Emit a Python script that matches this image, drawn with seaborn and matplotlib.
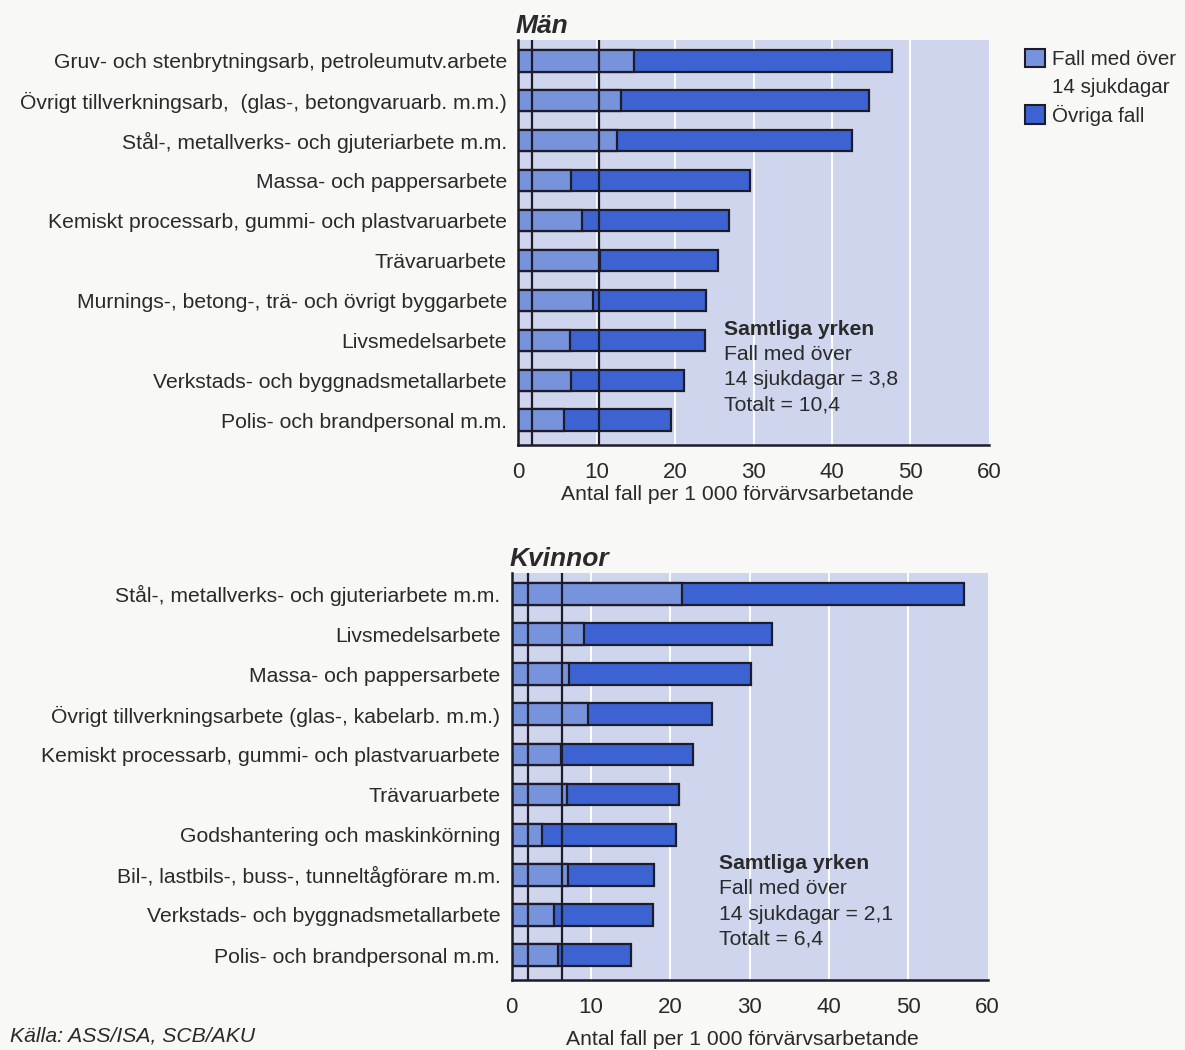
import pandas as pd
import seaborn as sns
import matplotlib.pyplot as plt
from matplotlib.patches import Patch

# Män
men_categories = [
    'Gruv- och stenbrytningsarb, petroleumutv.arbete',
    'Övrigt tillverkningsarb,  (glas-, betongvaruarb. m.m.)',
    'Stål-, metallverks- och gjuteriarbete m.m.',
    'Massa- och pappersarbete',
    'Kemiskt processarb, gummi- och plastvaruarbete',
    'Trävaruarbete',
    'Murnings-, betong-, trä- och övrigt byggarbete',
    'Livsmedelsarbete',
    'Verkstads- och byggnadsmetallarbete',
    'Polis- och brandpersonal m.m.',
]
men_over14 = [14.8, 13.1, 12.6, 6.8, 8.2, 10.4, 9.6, 6.6, 6.7, 5.9]
men_total = [47.7, 44.7, 42.5, 29.5, 26.9, 25.5, 24.0, 23.8, 21.1, 19.5]
men_lines = [1.8, 10.3]

# Kvinnor
women_categories = [
    'Stål-, metallverks- och gjuteriarbete m.m.',
    'Livsmedelsarbete',
    'Massa- och pappersarbete',
    'Övrigt tillverkningsarbete (glas-, kabelarb. m.m.)',
    'Kemiskt processarb, gummi- och plastvaruarbete',
    'Trävaruarbete',
    'Godshantering och maskinkörning',
    'Bil-, lastbils-, buss-, tunneltågförare m.m.',
    'Verkstads- och byggnadsmetallarbete',
    'Polis- och brandpersonal m.m.',
]
women_over14 = [21.5, 9.2, 7.3, 9.7, 6.2, 7.0, 3.9, 7.1, 5.4, 5.9]
women_total = [57.1, 32.8, 30.2, 25.3, 22.9, 21.1, 20.7, 18.0, 17.8, 15.1]
women_lines = [2.1, 6.4]

xticks = [0, 10, 20, 30, 40, 50, 60]

sns.set_style('white')
plt.rcParams['font.family'] = ['Liberation Sans', 'DejaVu Sans']

LIGHT = '#7793dc'
DARK = '#3d62d2'
EDGE = '#1c1c2a'
PANEL = '#ced5ec'
INK = '#2a2a2a'

fig = plt.figure(figsize=(11.85, 10.5), dpi=100)
fig.patch.set_facecolor('#f8f8f6')


def draw_panel(ax, cats, over, total, lines, title, note):
    df = pd.DataFrame({'cat': cats, 'over': over, 'total': total})
    sns.barplot(data=df, y='cat', x='total', orient='h', color=DARK,
                edgecolor=EDGE, linewidth=1.6, width=0.54, saturation=1, ax=ax)
    sns.barplot(data=df, y='cat', x='over', orient='h', color=LIGHT,
                edgecolor=EDGE, linewidth=1.6, width=0.54, saturation=1, ax=ax)
    ax.set_facecolor(PANEL)
    ax.set_xlim(0, 60)
    ax.set_ylim(9.62, -0.52)
    ax.set_xticks(xticks)
    ax.set_xticklabels([str(t) for t in xticks], fontsize=16, color=INK)
    for t in xticks[1:-1]:
        ax.axvline(t, color='white', lw=1.4, zorder=0)
    for v in lines:
        ax.axvline(v, color=EDGE, lw=1.6, zorder=5)
    ax.tick_params(axis='y', length=0, pad=8, labelsize=15.2, labelcolor=INK)
    ax.tick_params(axis='x', length=0, pad=12)
    ax.set_ylabel('')
    ax.set_xlabel('Antal fall per 1 000 förvärvsarbetande', fontsize=15.2,
                  color=INK)
    for s in ['top', 'right']:
        ax.spines[s].set_visible(False)
    for s in ['left', 'bottom']:
        ax.spines[s].set_color(EDGE)
        ax.spines[s].set_linewidth(1.8)
    ax.text(-0.005, 1.006, title, transform=ax.transAxes, fontsize=19,
            fontweight='bold', fontstyle='italic', color=INK, va='bottom')
    ax.text(26.2, 6.72, 'Samtliga yrken', fontsize=15.2, fontweight='bold',
            color=INK, va='center')
    for i, line in enumerate(note):
        ax.text(26.2, 7.35 + 0.63 * i, line, fontsize=15.2, color=INK, va='center')


ax1 = fig.add_axes([518 / 1185, 1 - 445 / 1050, 471 / 1185, 405 / 1050])
draw_panel(ax1, men_categories, men_over14, men_total, men_lines, 'Män',
           ['Fall med över', '14 sjukdagar = 3,8', 'Totalt = 10,4'])
ax1.xaxis.set_label_coords(0.465, -0.10)

ax2 = fig.add_axes([511.5 / 1185, 1 - 980 / 1050, 476 / 1185, 407 / 1050])
draw_panel(ax2, women_categories, women_over14, women_total, women_lines, 'Kvinnor',
           ['Fall med över', '14 sjukdagar = 2,1', 'Totalt = 6,4'])
ax2.xaxis.set_label_coords(0.485, -0.122)

# the second legend row carries the wrapped part of the first label
handles = [Patch(facecolor=LIGHT, edgecolor=EDGE, linewidth=1.5),
           Patch(facecolor='none', edgecolor='none'),
           Patch(facecolor=DARK, edgecolor=EDGE, linewidth=1.5)]
fig.legend(handles, ['Fall med över', '14 sjukdagar', 'Övriga fall'],
           loc='upper left', bbox_to_anchor=(1006 / 1185, 1 - 30 / 1050),
           frameon=False, fontsize=14.8, handlelength=1.0, handleheight=1.0,
           handletextpad=0.35, labelspacing=0.38, labelcolor=INK)

fig.text(10 / 1185, 1 - 1036 / 1050, 'Källa: ASS/ISA, SCB/AKU', fontsize=15.2,
         fontstyle='italic', color=INK, va='center')

fig.savefig('out.png', dpi=100, facecolor=fig.get_facecolor())
